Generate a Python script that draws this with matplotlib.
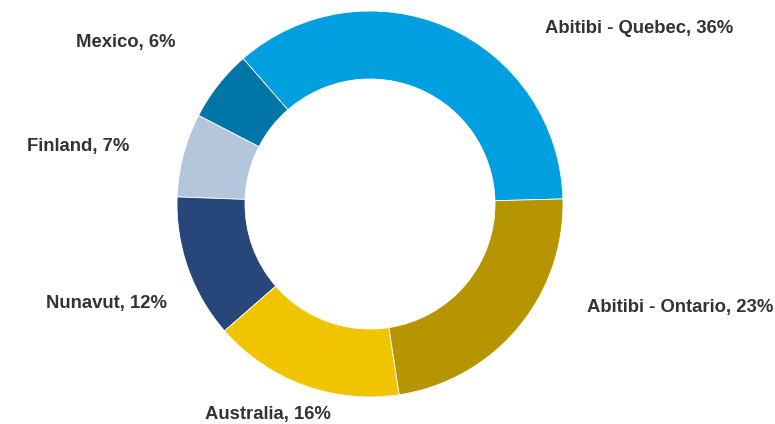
import matplotlib
matplotlib.use("Agg")
import matplotlib.pyplot as plt

# Share of mineral reserves by region
regions = ["Abitibi - Quebec", "Mexico", "Finland", "Nunavut", "Australia", "Abitibi - Ontario"]
shares = [36, 6, 7, 12, 16, 23]
colors = ["#009FDF", "#0076A8", "#B3C6DB", "#27467A", "#F1C400", "#B79500"]

# Label anchor positions (pixels from the top-left of the canvas)
label_px = [(639, 29), (126, 43), (78, 147), (107, 304), (268, 415), (680, 308)]

W, H, DPI = 775, 424, 100
CX, CY, R = 370, 204, 193  # donut centre and outer radius in pixels

fig = plt.figure(figsize=(W / DPI, H / DPI), dpi=DPI)
ax = fig.add_axes([0, 0, 1, 1])

ax.pie(shares, colors=colors, startangle=1.5, counterclock=True, radius=1.0,
       wedgeprops=dict(width=1 - 125 / 193, edgecolor="white", linewidth=0.6))

ax.set_aspect("auto")
ax.set_xlim(-CX / R, (W - CX) / R)
ax.set_ylim(-(H - CY) / R, CY / R)
ax.axis("off")

for name, val, (px, py) in zip(regions, shares, label_px):
    ax.text((px - CX) / R, (CY - py) / R, f"{name}, {val}%",
            ha="center", va="center", fontsize=13.3, fontweight="bold",
            color="#333333", family=["Liberation Sans", "DejaVu Sans"])

fig.savefig("out.png", dpi=DPI)
